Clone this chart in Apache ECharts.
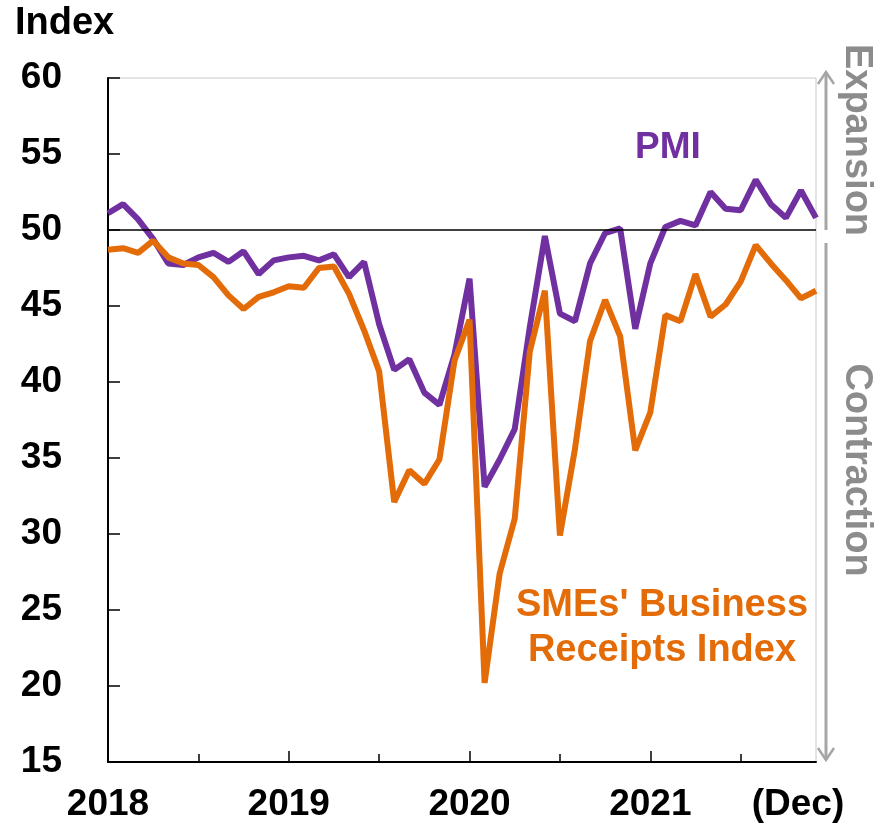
<!DOCTYPE html>
<html>
<head>
<meta charset="utf-8">
<title>PMI and SMEs' Business Receipts Index</title>
<script src="https://cdn.jsdelivr.net/npm/echarts@6/dist/echarts.min.js"></script>
<style>
  html, body { margin: 0; padding: 0; background: #fff; }
  #chart { width: 885px; height: 836px; }
</style>
</head>
<body>
<div id="chart"></div>
<script>
"use strict";

// months Jan 2018 .. Dec 2021
const years = ["2018", "2019", "2020", "2021"];
const monthNames = ["Jan", "Feb", "Mar", "Apr", "May", "Jun", "Jul", "Aug", "Sep", "Oct", "Nov", "Dec"];
const months = [];
years.forEach(function (y) {
  monthNames.forEach(function (m) { months.push(m + " " + y); });
});

// tick labels on the x axis (index -> text)
const labelIndex = [0, 12, 24, 36, 47];
const labelText = ["2018", "2019", "2020", "2021", "(Dec)"];

// PMI
const pmi = [
  51.1, 51.7, 50.7, 49.4, 47.8, 47.7, 48.2, 48.5, 47.9, 48.6, 47.1, 48.0,
  48.2, 48.3, 48.0, 48.4, 46.9, 47.9, 43.8, 40.8, 41.5, 39.3, 38.5, 41.8,
  46.8, 33.1, 34.9, 36.9, 43.6, 49.6, 44.5, 44.0, 47.8, 49.8, 50.1, 43.5,
  47.8, 50.2, 50.6, 50.3, 52.5, 51.4, 51.3, 53.3, 51.7, 50.8, 52.6, 50.8
];

// SMEs' Business Receipts Index
const smes = [
  48.7, 48.8, 48.5, 49.3, 48.2, 47.8, 47.7, 46.9, 45.7, 44.8, 45.6, 45.9,
  46.3, 46.2, 47.5, 47.6, 45.8, 43.4, 40.7, 32.1, 34.2, 33.3, 34.9, 41.4,
  44.1, 20.2, 27.4, 31.0, 42.0, 46.0, 29.9, 35.6, 42.7, 45.4, 43.0, 35.5,
  38.0, 44.4, 44.0, 47.1, 44.3, 45.1, 46.6, 49.0, 47.8, 46.7, 45.5, 46.0
];

const purple = "#7030A0";
const orange = "#E36C09";
const grey = "#8c8c8c";
const arrowGrey = "#a6a6a6";
const font = "'Liberation Sans', Arial, sans-serif";

let chart = echarts.init(document.getElementById("chart"));

chart.setOption({
  animation: false,
  grid: {
    left: 108, right: 69, top: 78, bottom: 74,
    show: true, borderColor: "#c8c8c8", borderWidth: 1
  },
  xAxis: [
    {
      type: "category",
      data: months,
      boundaryGap: false,
      axisLine: { lineStyle: { color: "#000", width: 2 } },
      axisTick: {
        inside: true, length: 8,
        lineStyle: { color: "#000", width: 1.5 },
        interval: function (i) { return i % 12 === 6; }
      },
      axisLabel: {
        interval: function (i) { return labelIndex.indexOf(i) >= 0; },
        formatter: function (v, i) {
          let k = labelIndex.indexOf(i);
          if (k < 0) return "";
          if (labelText[k] === "(Dec)") return "{dec|" + labelText[k] + "}";
          return labelText[k];
        },
        rich: {
          dec: { fontSize: 37, fontWeight: "bold", fontFamily: font, color: "#000", padding: [0, 36, 0, 0] }
        },
        margin: 24,
        fontSize: 37, fontWeight: "bold", fontFamily: font, color: "#000",
        showMinLabel: true, showMaxLabel: true
      },
      splitLine: { show: false }
    },
    {
      type: "category",
      data: months,
      boundaryGap: false,
      position: "bottom",
      axisLine: { show: false },
      axisTick: {
        inside: true, length: 11,
        lineStyle: { color: "#000", width: 1.5 },
        interval: function (i) { return i % 12 === 0 && i > 0; }
      },
      axisLabel: { show: false },
      splitLine: { show: false }
    }
  ],
  yAxis: {
    type: "value",
    min: 15, max: 60, interval: 5,
    axisLine: { show: true, lineStyle: { color: "#000", width: 2 } },
    axisTick: { show: true, inside: true, length: 12, lineStyle: { color: "#000", width: 1.5 } },
    axisLabel: { fontSize: 37, fontWeight: "bold", fontFamily: font, color: "#000", margin: 46 },
    splitLine: { show: false }
  },
  series: [
    {
      name: "PMI",
      type: "line",
      data: pmi,
      showSymbol: false,
      lineStyle: { color: purple, width: 6 },
      markLine: {
        silent: true,
        symbol: "none",
        label: { show: false },
        lineStyle: { color: "#000", width: 1.5, type: "solid" },
        data: [{ yAxis: 50 }]
      }
    },
    {
      name: "SMEs' Business Receipts Index",
      type: "line",
      data: smes,
      showSymbol: false,
      lineStyle: { color: orange, width: 6 }
    }
  ],
  graphic: [
    // axis name
    { type: "text", x: 15, y: 24, style: { text: "Index", font: "bold 38px " + font, fill: "#000", textVerticalAlign: "middle" } },
    // series names
    { type: "text", x: 668, y: 148, style: { text: "PMI", font: "bold 37px " + font, fill: purple, textAlign: "center", textVerticalAlign: "middle" } },
    { type: "text", x: 662, y: 628, style: { text: "SMEs' Business\nReceipts Index", font: "bold 38px " + font, lineHeight: 45, fill: orange, textAlign: "center", textVerticalAlign: "middle" } },
    // expansion / contraction arrows
    { type: "line", shape: { x1: 826, y1: 72, x2: 826, y2: 230 }, style: { stroke: arrowGrey, lineWidth: 3 } },
    { type: "polyline", shape: { points: [[818, 84], [826, 72], [834, 84]] }, style: { stroke: arrowGrey, lineWidth: 2.5, fill: null } },
    { type: "line", shape: { x1: 826, y1: 243, x2: 826, y2: 760 }, style: { stroke: arrowGrey, lineWidth: 3 } },
    { type: "polyline", shape: { points: [[818, 748], [826, 760], [834, 748]] }, style: { stroke: arrowGrey, lineWidth: 2.5, fill: null } },
    { type: "text", x: 856, y: 140, rotation: -Math.PI / 2, style: { text: "Expansion", font: "bold 38px " + font, fill: grey, textAlign: "center", textVerticalAlign: "middle" } },
    { type: "text", x: 856, y: 470, rotation: -Math.PI / 2, style: { text: "Contraction", font: "bold 38px " + font, fill: grey, textAlign: "center", textVerticalAlign: "middle" } }
  ]
});
</script>
</body>
</html>
